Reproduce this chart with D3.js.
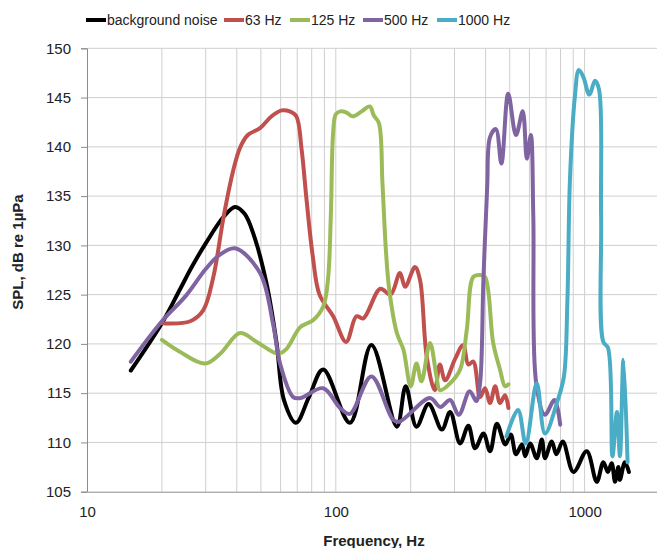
<!DOCTYPE html>
<html>
<head>
<meta http-equiv="Content-type" content="text/html; charset=utf-8">
<title>SPL vs frequency</title>
<script src="https://cdn.jsdelivr.net/npm/d3@7"></script>
<style>
  body { margin: 0; background: #fff; }
  svg { display: block; font-family: "Liberation Sans", Arial, sans-serif; }
  .grid line { stroke: #cfcfcf; stroke-width: 1; }
  .axis path, .axis line { stroke: #8c8c8c; }
  .axis text { fill: #222; font-size: 15px; }
  .series { fill: none; stroke-width: 4; stroke-linejoin: round; stroke-linecap: round; }
</style>
</head>
<body>
<script type="text/javascript">

// data: [frequency Hz, SPL dB]
var noise = [[15,117.3],[20,122.1],[23.6,125.5],[26.5,127.9],[30,130.2],[35.4,132.9],[39.4,133.9],[43,133.2],[46.6,131.2],
  [52.7,126.1],[57.8,120.1],[61.9,114.3],[69.2,112.0],[78,114.6],[89,117.4],[114,112.0],[139,119.9],
  [176,111.6],[191,115.7],[211,111.6],[236,113.9],[267,111.3],[288,113.1],[316,109.9],[341,111.7],
  [363,109.4],[392,110.9],[417,109.1],[444,111.9],[480,109.8],[505,110.8],[530,108.8],[560,109.8],
  [577,108.6],[604,109.9],[642,108.4],[673,110.3],[693,108.4],[738,110.1],[770,108.8],[817,110.1],
  [902,107.0],[1020,109.1],[1119,106.0],[1189,108.0],[1240,107.0],[1285,107.9],[1325,106.0],[1366,107.5],
  [1387,106.2],[1452,108.0],[1507,107.0]];

var hz63 = [[20,122.1],[26,122.3],[29.3,123.4],[32.2,126.8],[35.4,132.9],[38.7,137.6],[41.2,139.9],[44.3,141.2],
  [49.6,141.9],[55.2,143.1],[60.6,143.7],[65.3,143.6],[69.4,143.1],[72.9,139.7],[76.3,134.6],[80.8,128.9],
  [86,125.0],[97.6,122.8],[110,120.2],[121,122.8],[129,122.6],[151,125.6],[166,125.0],[181,127.2],
  [190,125.8],[208,127.8],[218,126.5],[232,118.7],[250,115.3],[262,117.9],[275,116.3],[302,118.5],
  [325,119.9],[341,117.9],[357,118.2],[380,114.6],[398,115.5],[417,114.0],[437,115.7],[457,114.0],
  [479,114.8],[494,113.5]];

var hz125 = [[20,120.4],[23.6,119.2],[29.8,118.0],[34.3,119.0],[41.2,121.1],[48.1,120.2],[58.7,119.0],[63.4,119.5],
  [72,121.7],[81,122.4],[89,123.8],[93,126.5],[95.5,133],[97.6,141.5],[100,143.3],[104,143.6],[110,143.5],
  [117,143.1],[127,143.6],[137,144.1],[142,143.2],[149,142.4],[154,136.3],[159,129.5],[164,125.5],
  [176,121.1],[187,119.4],[200,115.7],[211,118.0],[221,116.2],[239,120.1],[254,116.7],[262,115.3],
  [288,116.0],[316,117.4],[336,121.4],[357,126.8],[380,127.0],[398,126.8],[429,120.1],[457,117.4],
  [479,115.7],[494,115.9]];

var hz500 = [[15,118.2],[20,122.3],[25,124.9],[30,127.6],[34,129.0],[39.4,129.7],[49.6,127.2],[55.9,122.1],[59.7,118.0],[67.4,114.6],
  [72,114.5],[89,115.5],[104,113.5],[114,112.9],[139,116.7],[170,112.3],[180,112.1],[239,114.5],
  [263,113.6],[288,114.3],[312,112.8],[345,115.2],[367,114.2],[380,116],[392,126.5],[406,136],[417,141.0],
  [440,141.8],[463,138.3],[493,145.4],[530,141.2],[564,143.6],[586,138.8],[608,141.2],[622,133],
  [639,116.0],[693,112.8],[756,114.3],[798,111.8]];

var hz1000 = [[485,110.6],[540,113.3],[580,109.9],[642,116.0],[693,110.9],[780,114.3],[826,116.7],[853,124.5],
  [873,136.6],[914,145.1],[948,147.8],[988,147.1],[1045,145.3],[1101,146.7],[1143,145.8],[1165,133],
  [1189,120.2],[1242,119.6],[1294,108.6],[1349,113.1],[1387,108.6],[1432,118.4],[1488,108.0]];

var seriesNames = ["background noise", "63 Hz", "125 Hz", "500 Hz", "1000 Hz"];
var seriesData = [noise, hz63, hz125, hz500, hz1000];
var colors = ["#000000", "#C0504D", "#9BBB59", "#8064A2", "#4BACC6"];

var yTicks = [105, 110, 115, 120, 125, 130, 135, 140, 145, 150];
var xTicks = [10, 100, 1000];
var xGrid = [20,30,40,50,60,70,80,90,100,200,300,400,500,600,700,800,900,1000,2000];

var W = 657, H = 548;

function init() {
  var svg = d3.select("body").append("svg").attr("width", W).attr("height", H);

  var x = d3.scaleLog().domain([10, 2000]).range([87, 659.5]);
  var y = d3.scaleLinear().domain([105, 150]).range([491.7, 48.3]);

  // gridlines
  var grid = svg.append("g").attr("class", "grid");
  grid.selectAll(".v").data(xGrid).enter().append("line")
    .attr("x1", function(d){ return x(d); }).attr("x2", function(d){ return x(d); })
    .attr("y1", y(105)).attr("y2", y(150));
  grid.selectAll(".h").data(yTicks.slice(1)).enter().append("line")
    .attr("x1", x(10)).attr("x2", W)
    .attr("y1", function(d){ return y(d); }).attr("y2", function(d){ return y(d); });

  // axes
  svg.append("g").attr("class", "axis")
    .attr("transform", "translate(" + x(10) + ",0)")
    .call(d3.axisLeft(y).tickValues(yTicks).tickSize(6).tickPadding(10));

  svg.append("g").attr("class", "axis")
    .attr("transform", "translate(0," + y(105) + ")")
    .call(d3.axisBottom(x).tickValues(xTicks).tickFormat(d3.format("d")).tickSize(0).tickPadding(15));

  // series
  var line = d3.line()
    .x(function(d){ return x(d[0]); })
    .y(function(d){ return y(d[1]); })
    .curve(d3.curveCatmullRom.alpha(0.5));

  svg.selectAll(".series").data(seriesData).enter().append("path")
    .attr("class", "series")
    .attr("d", line)
    .attr("stroke", function(d, i){ return colors[i]; });

  // axis titles
  svg.append("text").attr("x", 374).attr("y", 546).attr("text-anchor", "middle")
    .style("font-size", "15px").style("font-weight", "bold").style("fill", "#222")
    .text("Frequency, Hz");
  svg.append("text").attr("transform", "translate(23,252) rotate(-90)").attr("text-anchor", "middle")
    .style("font-size", "15px").style("font-weight", "bold").style("fill", "#222")
    .text("SPL, dB re 1µPa");

  // legend
  var legX = [86, 224, 290, 363, 437];
  var leg = svg.selectAll(".leg").data(seriesNames).enter().append("g")
    .attr("transform", function(d, i){ return "translate(" + legX[i] + ",20)"; });
  leg.append("line").attr("x1", 0).attr("x2", 20).attr("y1", 0).attr("y2", 0)
    .attr("stroke", function(d, i){ return colors[i]; }).attr("stroke-width", 4);
  leg.append("text").attr("x", 21).attr("y", 5)
    .style("font-size", "14px").style("fill", "#222")
    .text(function(d){ return d; });
}

init();
</script>
</body>
</html>
